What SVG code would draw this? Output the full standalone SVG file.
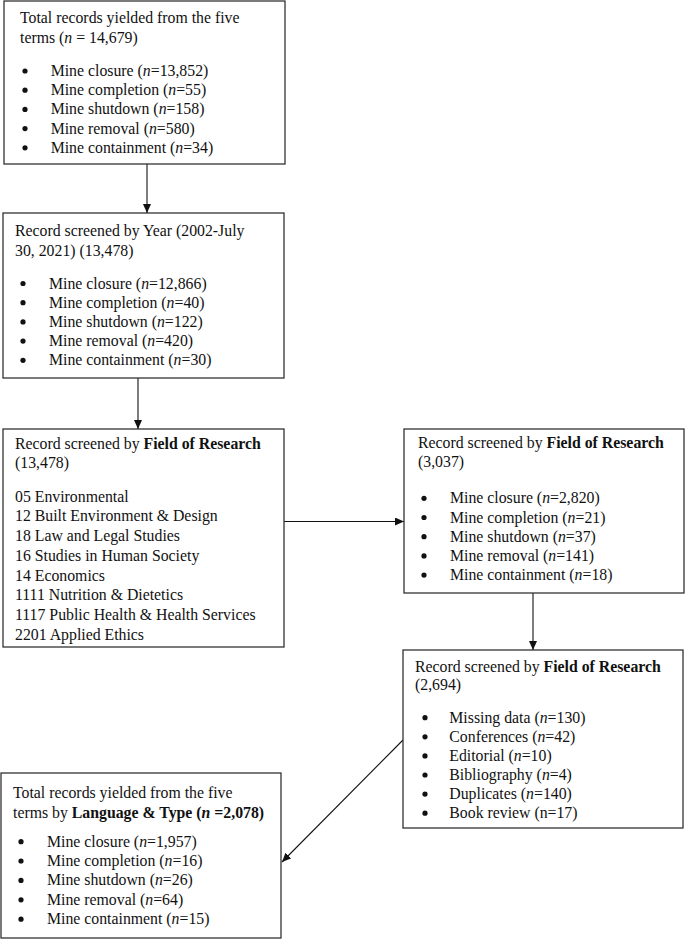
<svg xmlns="http://www.w3.org/2000/svg" width="685" height="939" viewBox="0 0 685 939">
<style>
text{font-family:"Liberation Serif","Times New Roman",serif;font-size:15.8px;fill:#111}
.box{fill:#fff;stroke:#333;stroke-width:1.3}
.conn{stroke:#111;stroke-width:1.1;fill:none}
.b{font-weight:bold}
.i{font-style:italic}
.dot{fill:#111}
</style>
<defs>
<marker id="ah" markerUnits="userSpaceOnUse" markerWidth="10" markerHeight="9" refX="9" refY="4" orient="auto">
<path d="M0,0 L9,4 L0,8 z" fill="#111"/>
</marker>
</defs>
<rect width="685" height="939" fill="#fff"/>
<g id="connectors">
<line class="conn" x1="147" y1="164" x2="147" y2="213" marker-end="url(#ah)"/>
<line class="conn" x1="138" y1="378" x2="138" y2="429" marker-end="url(#ah)"/>
<line class="conn" x1="284" y1="521.5" x2="404" y2="521.5" marker-end="url(#ah)"/>
<line class="conn" x1="533" y1="593" x2="533" y2="650" marker-end="url(#ah)"/>
<line class="conn" x1="403" y1="740" x2="282" y2="862" marker-end="url(#ah)"/>
</g>
<g id="node1">
<rect class="box" x="4" y="1" width="281" height="163"/>
<text x="20" y="23.3">Total records yielded from the five</text>
<text x="20" y="42.7">terms (<tspan class="i">n</tspan> = 14,679)</text>
<circle class="dot" cx="25" cy="71" r="2.6"/><text x="50.7" y="76">Mine closure (<tspan class="i">n</tspan>=13,852)</text>
<circle class="dot" cx="25" cy="90.2" r="2.6"/><text x="50.7" y="95.2">Mine completion (<tspan class="i">n</tspan>=55)</text>
<circle class="dot" cx="25" cy="109.4" r="2.6"/><text x="50.7" y="114.4">Mine shutdown (<tspan class="i">n</tspan>=158)</text>
<circle class="dot" cx="25" cy="128.6" r="2.6"/><text x="50.7" y="133.6">Mine removal (<tspan class="i">n</tspan>=580)</text>
<circle class="dot" cx="25" cy="147.8" r="2.6"/><text x="50.7" y="152.8">Mine containment (<tspan class="i">n</tspan>=34)</text>
</g>
<g id="node2">
<rect class="box" x="3" y="213" width="281" height="165"/>
<text x="15" y="236">Record screened by Year (2002-July</text>
<text x="15" y="255.5">30, 2021) (13,478)</text>
<circle class="dot" cx="23" cy="283.5" r="2.6"/><text x="49" y="288.5">Mine closure (<tspan class="i">n</tspan>=12,866)</text>
<circle class="dot" cx="23" cy="302.7" r="2.6"/><text x="49" y="307.7">Mine completion (<tspan class="i">n</tspan>=40)</text>
<circle class="dot" cx="23" cy="321.9" r="2.6"/><text x="49" y="326.9">Mine shutdown (<tspan class="i">n</tspan>=122)</text>
<circle class="dot" cx="23" cy="341.1" r="2.6"/><text x="49" y="346.1">Mine removal (<tspan class="i">n</tspan>=420)</text>
<circle class="dot" cx="23" cy="360.3" r="2.6"/><text x="49" y="365.3">Mine containment (<tspan class="i">n</tspan>=30)</text>
</g>
<g id="node3">
<rect class="box" x="3" y="429" width="281" height="218"/>
<text x="15" y="449.3">Record screened by <tspan class="b">Field of Research</tspan></text>
<text x="15" y="468.3">(13,478)</text>
<text x="15" y="501.7">05 Environmental</text>
<text x="15" y="521.4">12 Built Environment &amp; Design</text>
<text x="15" y="541.1">18 Law and Legal Studies</text>
<text x="15" y="560.8">16 Studies in Human Society</text>
<text x="15" y="580.5">14 Economics</text>
<text x="15" y="600.2">1111 Nutrition &amp; Dietetics</text>
<text x="15" y="619.9">1117 Public Health &amp; Health Services</text>
<text x="15" y="639.6">2201 Applied Ethics</text>
</g>
<g id="node4">
<rect class="box" x="404" y="429" width="280" height="164"/>
<text x="418" y="447.5">Record screened by <tspan class="b">Field of Research</tspan></text>
<text x="418" y="466.5">(3,037)</text>
<circle class="dot" cx="424" cy="498.3" r="2.6"/><text x="450" y="503.3">Mine closure (<tspan class="i">n</tspan>=2,820)</text>
<circle class="dot" cx="424" cy="517.5" r="2.6"/><text x="450" y="522.5">Mine completion (<tspan class="i">n</tspan>=21)</text>
<circle class="dot" cx="424" cy="536.7" r="2.6"/><text x="450" y="541.7">Mine shutdown (<tspan class="i">n</tspan>=37)</text>
<circle class="dot" cx="424" cy="555.9" r="2.6"/><text x="450" y="560.9">Mine removal (<tspan class="i">n</tspan>=141)</text>
<circle class="dot" cx="424" cy="575.1" r="2.6"/><text x="450" y="580.1">Mine containment (<tspan class="i">n</tspan>=18)</text>
</g>
<g id="node5">
<rect class="box" x="403" y="650" width="280" height="178"/>
<text x="415" y="671.7">Record screened by <tspan class="b">Field of Research</tspan></text>
<text x="415" y="690">(2,694)</text>
<circle class="dot" cx="425" cy="717.7" r="2.6"/><text x="449.3" y="722.7">Missing data (<tspan class="i">n</tspan>=130)</text>
<circle class="dot" cx="425" cy="736.8" r="2.6"/><text x="449.3" y="741.8">Conferences (<tspan class="i">n</tspan>=42)</text>
<circle class="dot" cx="425" cy="755.9" r="2.6"/><text x="449.3" y="760.9">Editorial (<tspan class="i">n</tspan>=10)</text>
<circle class="dot" cx="425" cy="775" r="2.6"/><text x="449.3" y="780">Bibliography (<tspan class="i">n</tspan>=4)</text>
<circle class="dot" cx="425" cy="794.1" r="2.6"/><text x="449.3" y="799.1">Duplicates (<tspan class="i">n</tspan>=140)</text>
<circle class="dot" cx="425" cy="813.2" r="2.6"/><text x="449.3" y="818.2">Book review (n=17)</text>
</g>
<g id="node6">
<rect class="box" x="1" y="773" width="280" height="165"/>
<text x="13" y="798.3">Total records yielded from the five</text>
<text x="13" y="818.3">terms by <tspan class="b">Language &amp; Type (<tspan class="i">n</tspan> =2,078)</tspan></text>
<circle class="dot" cx="21" cy="841.7" r="2.6"/><text x="47" y="846.7">Mine closure (<tspan class="i">n</tspan>=1,957)</text>
<circle class="dot" cx="21" cy="861" r="2.6"/><text x="47" y="866">Mine completion (<tspan class="i">n</tspan>=16)</text>
<circle class="dot" cx="21" cy="880.4" r="2.6"/><text x="47" y="885.4">Mine shutdown (<tspan class="i">n</tspan>=26)</text>
<circle class="dot" cx="21" cy="899.8" r="2.6"/><text x="47" y="904.8">Mine removal (<tspan class="i">n</tspan>=64)</text>
<circle class="dot" cx="21" cy="919.2" r="2.6"/><text x="47" y="924.2">Mine containment (<tspan class="i">n</tspan>=15)</text>
</g>
</svg>
